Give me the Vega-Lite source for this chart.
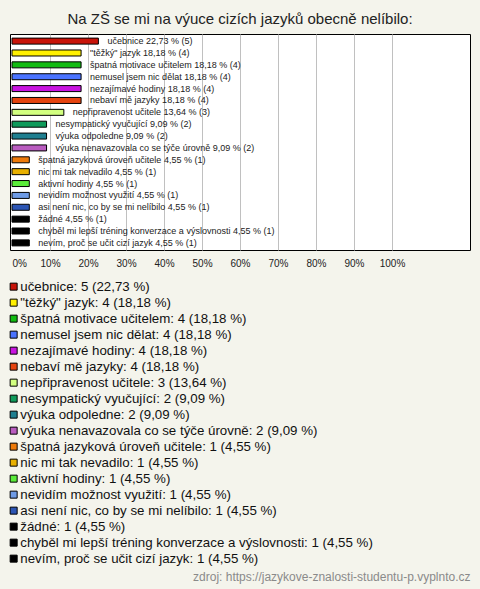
{
  "$schema": "https://vega.github.io/schema/vega-lite/v6.json",
  "width": 460,
  "height": 216,
  "autosize": "none",
  "padding": {"left": 10, "top": 34, "right": 10, "bottom": 339},
  "background": "#f4f4ec",
  "title": {
    "text": "Na ZŠ se mi na výuce cizích jazyků obecně nelíbilo:",
    "fontSize": 15,
    "font": "Liberation Sans",
    "fontWeight": "normal",
    "color": "#222",
    "anchor": "middle",
    "frame": "group",
    "offset": -5,
    "baseline": "alphabetic"
  },
  "data": {
    "values": [
      {"order": 1, "name": "učebnice", "label": "učebnice 22,73 % (5)", "legend": "učebnice: 5 (22,73 %)", "pct": 22.73},
      {"order": 2, "name": "\"těžký\" jazyk", "label": "\"těžký\" jazyk 18,18 % (4)", "legend": "\"těžký\" jazyk: 4 (18,18 %)", "pct": 18.18},
      {"order": 3, "name": "špatná motivace učitelem", "label": "špatná motivace učitelem 18,18 % (4)", "legend": "špatná motivace učitelem: 4 (18,18 %)", "pct": 18.18},
      {"order": 4, "name": "nemusel jsem nic dělat", "label": "nemusel jsem nic dělat 18,18 % (4)", "legend": "nemusel jsem nic dělat: 4 (18,18 %)", "pct": 18.18},
      {"order": 5, "name": "nezajímavé hodiny", "label": "nezajímavé hodiny 18,18 % (4)", "legend": "nezajímavé hodiny: 4 (18,18 %)", "pct": 18.18},
      {"order": 6, "name": "nebaví mě jazyky", "label": "nebaví mě jazyky 18,18 % (4)", "legend": "nebaví mě jazyky: 4 (18,18 %)", "pct": 18.18},
      {"order": 7, "name": "nepřipravenost učitele", "label": "nepřipravenost učitele 13,64 % (3)", "legend": "nepřipravenost učitele: 3 (13,64 %)", "pct": 13.64},
      {"order": 8, "name": "nesympatický vyučující", "label": "nesympatický vyučující 9,09 % (2)", "legend": "nesympatický vyučující: 2 (9,09 %)", "pct": 9.09},
      {"order": 9, "name": "výuka odpoledne", "label": "výuka odpoledne 9,09 % (2)", "legend": "výuka odpoledne: 2 (9,09 %)", "pct": 9.09},
      {"order": 10, "name": "výuka nenavazovala co se týče úrovně", "label": "výuka nenavazovala co se týče úrovně 9,09 % (2)", "legend": "výuka nenavazovala co se týče úrovně: 2 (9,09 %)", "pct": 9.09},
      {"order": 11, "name": "špatná jazyková úroveň učitele", "label": "špatná jazyková úroveň učitele 4,55 % (1)", "legend": "špatná jazyková úroveň učitele: 1 (4,55 %)", "pct": 4.55},
      {"order": 12, "name": "nic mi tak nevadilo", "label": "nic mi tak nevadilo 4,55 % (1)", "legend": "nic mi tak nevadilo: 1 (4,55 %)", "pct": 4.55},
      {"order": 13, "name": "aktivní hodiny", "label": "aktivní hodiny 4,55 % (1)", "legend": "aktivní hodiny: 1 (4,55 %)", "pct": 4.55},
      {"order": 14, "name": "nevidím možnost využití", "label": "nevidím možnost využití 4,55 % (1)", "legend": "nevidím možnost využití: 1 (4,55 %)", "pct": 4.55},
      {"order": 15, "name": "asi není nic, co by se mi nelíbilo", "label": "asi není nic, co by se mi nelíbilo 4,55 % (1)", "legend": "asi není nic, co by se mi nelíbilo: 1 (4,55 %)", "pct": 4.55},
      {"order": 16, "name": "žádné", "label": "žádné 4,55 % (1)", "legend": "žádné: 1 (4,55 %)", "pct": 4.55},
      {"order": 17, "name": "chyběl mi lepší tréning konverzace a výslovnosti", "label": "chyběl mi lepší tréning konverzace a výslovnosti 4,55 % (1)", "legend": "chyběl mi lepší tréning konverzace a výslovnosti: 1 (4,55 %)", "pct": 4.55},
      {"order": 18, "name": "nevím, proč se učit cizí jazyk", "label": "nevím, proč se učit cizí jazyk 4,55 % (1)", "legend": "nevím, proč se učit cizí jazyk: 1 (4,55 %)", "pct": 4.55}
    ]
  },
  "encoding": {
    "y": {
      "field": "name",
      "type": "nominal",
      "sort": {"field": "order"},
      "axis": null,
      "scale": {"paddingInner": 0, "paddingOuter": 0.1}
    },
    "x": {
      "field": "pct",
      "type": "quantitative",
      "scale": {"domain": [-0.53, 120.53], "nice": false},
      "axis": {
        "values": [0, 10, 20, 30, 40, 50, 60, 70, 80, 90, 100],
        "labelExpr": "datum.value + '%'",
        "domain": false,
        "ticks": false,
        "grid": true,
        "gridColor": {"condition": {"test": "datum.value === 0", "value": "transparent"}, "value": "#c0c0c0"},
        "gridWidth": 1,
        "labelFontSize": 10,
        "labelFont": "Liberation Sans",
        "labelColor": "#222",
        "labelPadding": 8,
        "labelFlush": 3,
        "labelBaseline": "top",
        "title": "zdroj: https://jazykove-znalosti-studentu-p.vyplnto.cz",
        "titleAnchor": "end",
        "titleAlign": "right",
        "titleBaseline": "alphabetic",
        "titleY": 330,
        "titleFont": "Liberation Sans",
        "titleFontSize": 12,
        "titleFontWeight": "normal",
        "titleColor": "#8a8a8a"
      }
    }
  },
  "layer": [
    {
      "mark": {"type": "bar", "size": 6, "stroke": "#000", "strokeWidth": 1},
      "encoding": {
        "color": {
          "field": "legend",
          "type": "nominal",
          "sort": {"field": "order"},
          "scale": {
            "range": ["#c8140a", "#fff000", "#11bb11", "#4a73ff", "#c814e0", "#e64410", "#d2ff80", "#0f9a5a", "#1f7f90", "#b95cc0", "#ee7a0a", "#e8b000", "#5aeb3a", "#6e9be6", "#2c55b4", "#000000", "#000000", "#000000"]
          },
          "legend": {
            "title": null,
            "orient": "none",
            "legendX": -3,
            "legendY": 246,
            "direction": "vertical",
            "symbolType": "square",
            "symbolSize": 49,
            "symbolStrokeColor": "#000",
            "symbolStrokeWidth": 1,
            "symbolOpacity": 1,
            "labelFontSize": 13.3,
            "labelFont": "Liberation Sans",
            "labelColor": "#111",
            "labelOffset": 0,
            "labelLimit": 600,
            "rowPadding": 2,
            "padding": 0
          }
        }
      }
    },
    {
      "mark": {"type": "text", "align": "left", "baseline": "middle", "dx": 9, "fontSize": 9, "font": "Liberation Sans", "color": "#222"},
      "encoding": {"text": {"field": "label"}}
    }
  ],
  "config": {
    "view": {"stroke": "#000", "strokeWidth": 1, "fill": "white"}
  }
}
